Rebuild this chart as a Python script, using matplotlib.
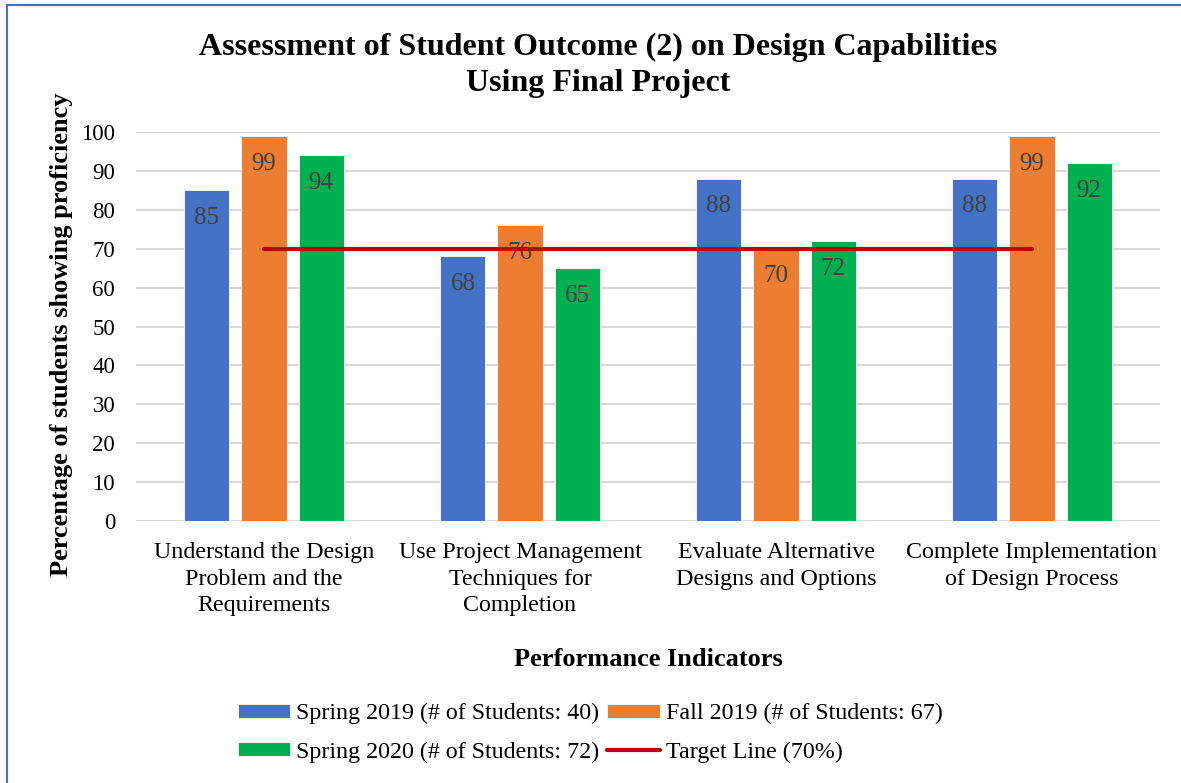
import numpy as np
import matplotlib
matplotlib.use("Agg")
import matplotlib.pyplot as plt
from matplotlib.patches import Rectangle

plt.rcParams['font.family'] = ['Liberation Serif', 'DejaVu Serif']

categories = ["Understand the Design\nProblem and the\nRequirements",
              "Use Project Management\nTechniques for\nCompletion",
              "Evaluate Alternative\nDesigns and Options",
              "Complete Implementation\nof Design Process"]
spring_2019 = [85, 68, 88, 88]
fall_2019 = [99, 76, 70, 99]
spring_2020 = [94, 65, 72, 92]
target = [70, 70, 70, 70]

series_names = ["Spring 2019 (# of Students: 40)",
                "Fall 2019 (# of Students: 67)",
                "Spring 2020 (# of Students: 72)"]
target_name = "Target Line (70%)"
colors = ["#4472C4", "#ED7D31", "#00B050"]
red = "#C00000"

W, H = 1181, 783
fig = plt.figure(figsize=(W / 100, H / 100), dpi=100)
ax = fig.add_axes([136 / W, 1 - 521 / H, (1160 - 136) / W, (521 - 132) / H])

x = np.arange(len(categories))
width = 0.176
offsets = [-0.223, 0, 0.223]
bars = []
for vals, off, c, name in zip([spring_2019, fall_2019, spring_2020], offsets, colors, series_names):
    b = ax.bar(x + off, vals, width, color=c, edgecolor="white", linewidth=0.6, label=name, zorder=2)
    bars.append(b)
    for xi, v in zip(x + off, vals):
        ax.annotate(str(v), (xi, v), xytext=(0, -20), textcoords="offset points",
                    ha="center", va="center", fontsize=18, color="#404040", zorder=4)

line, = ax.plot(x, target, color=red, lw=3, solid_capstyle="round", zorder=3, label=target_name)

ax.set_xlim(-0.5, len(categories) - 0.5)
ax.set_ylim(0, 100)
ax.set_yticks(range(0, 101, 10))
ax.tick_params(axis="y", labelsize=16.5, length=0, pad=15)
ax.set_xticks(x)
ax.set_xticklabels(categories, fontsize=17.3, linespacing=1.36)
ax.tick_params(axis="x", length=0, pad=15)
ax.yaxis.grid(True, color="#D9D9D9", lw=1.5, zorder=0)
ax.set_axisbelow(True)
for s in ax.spines.values():
    s.set_visible(False)

fig.text(598 / W, 1 - 65.5 / H, "Assessment of Student Outcome (2) on Design Capabilities\nUsing Final Project",
         ha="center", va="center", fontsize=23, fontweight="bold", linespacing=1.3)
fig.text(62 / W, 1 - 334 / H, "Percentage of students showing proficiency", rotation=90,
         ha="center", va="center", fontsize=19, fontweight="bold")
fig.text(648 / W, 1 - 660 / H, "Performance Indicators", ha="center", va="center",
         fontsize=19, fontweight="bold")

handles = [bars[0], bars[2], bars[1], line]
labels = [series_names[0], series_names[2], series_names[1], target_name]
fig.legend(handles, labels, ncol=2, loc="center", bbox_to_anchor=(590 / W, 1 - 733 / H),
           frameon=False, fontsize=17.3, handlelength=2.2, handleheight=0.5,
           handletextpad=0.25, columnspacing=0.3, labelspacing=0.72)

fig.add_artist(Rectangle((7 / W, -0.1), 1.2, 1 - 5 / H + 0.1, transform=fig.transFigure,
                         fill=False, edgecolor="#4472C4", lw=1.5, clip_on=False))

fig.savefig("out.png", dpi=100)
